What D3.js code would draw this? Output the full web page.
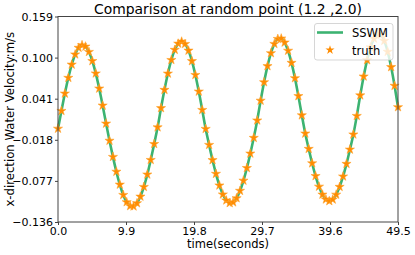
<!DOCTYPE html>
<html>
<head>
<meta charset="utf-8">
<script src="https://cdn.jsdelivr.net/npm/d3@7"></script>
<style>
  body { margin: 0; background: #fff; }
  svg { display: block; font-family: "DejaVu Sans", sans-serif; }
</style>
</head>
<body>
<script>
// sample times (s) and velocities
const times = [
  0.0, 0.5, 1.0, 1.5, 2.0, 2.5, 3.0, 3.5, 4.0, 4.5,
  5.0, 5.5, 6.0, 6.5, 7.0, 7.5, 8.0, 8.5, 9.0, 9.5,
  10.0, 10.5, 11.0, 11.5, 12.0, 12.5, 13.0, 13.5, 14.0, 14.5,
  15.0, 15.5, 16.0, 16.5, 17.0, 17.5, 18.0, 18.5, 19.0, 19.5,
  20.0, 20.5, 21.0, 21.5, 22.0, 22.5, 23.0, 23.5, 24.0, 24.5,
  25.0, 25.5, 26.0, 26.5, 27.0, 27.5, 28.0, 28.5, 29.0, 29.5,
  30.0, 30.5, 31.0, 31.5, 32.0, 32.5, 33.0, 33.5, 34.0, 34.5,
  35.0, 35.5, 36.0, 36.5, 37.0, 37.5, 38.0, 38.5, 39.0, 39.5,
  40.0, 40.5, 41.0, 41.5, 42.0, 42.5, 43.0, 43.5, 44.0, 44.5,
  45.0, 45.5, 46.0, 46.5, 47.0, 47.5, 48.0, 48.5, 49.0, 49.5
];
const truth = [
  -0.0020, 0.0235, 0.0484, 0.0710, 0.0900, 0.1046, 0.1141, 0.1179, 0.1159, 0.1082,
  0.0951, 0.0773, 0.0556, 0.0312, 0.0053, -0.0193, -0.0425, -0.0638, -0.0823, -0.0971,
  -0.1075, -0.1131, -0.1136, -0.1090, -0.0995, -0.0856, -0.0678, -0.0469, -0.0240, 0.0000,
  0.0275, 0.0537, 0.0771, 0.0966, 0.1112, 0.1201, 0.1230, 0.1196, 0.1101, 0.0950,
  0.0751, 0.0513, 0.0249, -0.0023, -0.0253, -0.0471, -0.0668, -0.0835, -0.0964, -0.1050,
  -0.1088, -0.1077, -0.1018, -0.0912, -0.0766, -0.0585, -0.0377, -0.0152, 0.0098, 0.0382,
  0.0647, 0.0878, 0.1064, 0.1197, 0.1268, 0.1275, 0.1217, 0.1099, 0.0925, 0.0705,
  0.0448, 0.0172, -0.0090, -0.0310, -0.0517, -0.0700, -0.0852, -0.0966, -0.1036, -0.1060,
  -0.1037, -0.0967, -0.0855, -0.0706, -0.0525, -0.0320, -0.0103, 0.0163, 0.0458, 0.0729,
  0.0963, 0.1147, 0.1273, 0.1335, 0.1326, 0.1241, 0.1084, 0.0864, 0.0596, 0.0289
];
// the model curve sits right on top of the truth points
const sswm = truth.slice();

const xTicks = [0.0, 9.9, 19.8, 29.7, 39.6, 49.5];
const yTicks = [-0.136, -0.077, -0.018, 0.041, 0.100, 0.159];

const W = 415, H = 255;
const plotL = 58, plotR = 398, plotT = 16.5, plotB = 222;

const svg = d3.select("body").append("svg")
  .attr("width", W)
  .attr("height", H);

const x = d3.scaleLinear().domain([0, 49.5]).range([plotL, plotR]);
const y = d3.scaleLinear().domain([-0.136, 0.159]).range([plotB, plotT]);

const line = d3.line()
  .x((d, i) => x(times[i]))
  .y(d => y(d))
  .curve(d3.curveCatmullRom);

svg.append("path")
  .datum(sswm)
  .attr("fill", "none")
  .attr("stroke", "#3cb371")
  .attr("stroke-width", 2.6)
  .attr("d", line);

const star = d3.symbol().type(d3.symbolStar).size(26);

svg.append("g")
  .selectAll("path")
  .data(truth)
  .join("path")
    .attr("transform", (d, i) => `translate(${x(times[i])},${y(d)})`)
    .attr("d", star)
    .attr("fill", "#ff8c00")
    .attr("stroke", "#ffa530")
    .attr("stroke-width", 0.6);

// frame
svg.append("rect")
  .attr("x", plotL).attr("y", plotT)
  .attr("width", plotR - plotL).attr("height", plotB - plotT)
  .attr("fill", "none")
  .attr("stroke", "#444")
  .attr("stroke-width", 1);

const xAxis = svg.append("g")
  .attr("transform", `translate(0,${plotB})`)
  .call(d3.axisBottom(x).tickValues(xTicks).tickFormat(d3.format(".1f")).tickSize(3).tickPadding(2));
const yAxis = svg.append("g")
  .attr("transform", `translate(${plotL},0)`)
  .call(d3.axisLeft(y).tickValues(yTicks).tickFormat(d3.format(".3f")).tickSize(3).tickPadding(2));

[xAxis, yAxis].forEach(g => {
  g.select(".domain").remove();
  g.selectAll(".tick line").attr("stroke", "#444");
  g.selectAll(".tick text")
    .attr("fill", "#000")
    .style("font-size", "11px")
    .style("font-family", "DejaVu Sans");
});
yAxis.selectAll(".tick text").attr("dy", "0.36em");

svg.append("text")
  .attr("x", (plotL + plotR) / 2).attr("y", 13.6)
  .attr("text-anchor", "middle")
  .style("font-size", "13.9px")
  .text("Comparison at random point (1.2 ,2.0)");

svg.append("text")
  .attr("x", (plotL + plotR) / 2).attr("y", 247.5)
  .attr("text-anchor", "middle")
  .style("font-size", "11.5px")
  .text("time(seconds)");

svg.append("text")
  .attr("transform", `translate(13.5,${(plotT + plotB) / 2}) rotate(-90)`)
  .attr("text-anchor", "middle")
  .style("font-size", "11.7px")
  .text("x-direction Water Velocity:m/s");

// legend
const legend = svg.append("g");
legend.append("rect")
  .attr("x", 314.5).attr("y", 23.5)
  .attr("width", 78.5).attr("height", 36.5)
  .attr("rx", 2.5)
  .attr("fill", "#fff").attr("fill-opacity", 0.8)
  .attr("stroke", "#ccc").attr("stroke-opacity", 0.8);
legend.append("line")
  .attr("x1", 317).attr("x2", 343)
  .attr("y1", 32.5).attr("y2", 32.5)
  .attr("stroke", "#3cb371").attr("stroke-width", 2.6);
legend.append("path")
  .attr("transform", "translate(330,50)")
  .attr("d", star)
  .attr("fill", "#ff8c00");
legend.append("text")
  .attr("x", 352).attr("y", 37)
  .style("font-size", "11.5px")
  .text("SSWM");
legend.append("text")
  .attr("x", 352).attr("y", 54.5)
  .style("font-size", "11.5px")
  .text("truth");
</script>
</body>
</html>
